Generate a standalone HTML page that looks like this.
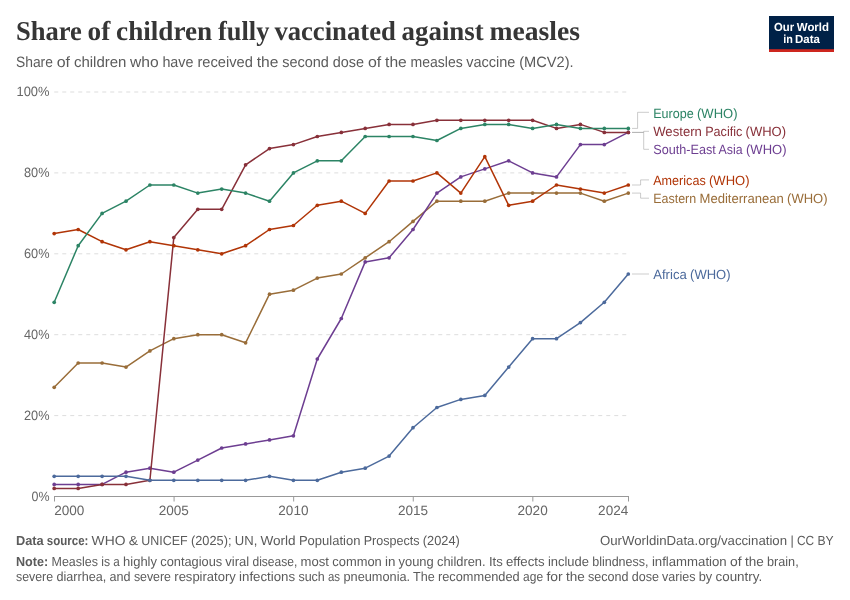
<!DOCTYPE html>
<html lang="en"><head><meta charset="utf-8"><title>Share of children fully vaccinated against measles</title>
<style>html,body{margin:0;padding:0;background:#fff}svg{display:block}text{white-space:pre;text-rendering:geometricPrecision}</style></head>
<body>
<svg width="850" height="600" viewBox="0 0 850 600">
<rect x="0" y="0" width="850" height="600" fill="#fff"/>
<rect x="769" y="16" width="65" height="36" fill="#002147"/>
<rect x="769" y="49.2" width="65" height="2.8" fill="#ce261e"/>
<line x1="54.25" x2="628.3" y1="415.6" y2="415.6" stroke="#ddd" stroke-width="1" stroke-dasharray="4,4"/>
<line x1="54.25" x2="628.3" y1="334.7" y2="334.7" stroke="#ddd" stroke-width="1" stroke-dasharray="4,4"/>
<line x1="54.25" x2="628.3" y1="253.8" y2="253.8" stroke="#ddd" stroke-width="1" stroke-dasharray="4,4"/>
<line x1="54.25" x2="628.3" y1="172.9" y2="172.9" stroke="#ddd" stroke-width="1" stroke-dasharray="4,4"/>
<line x1="54.25" x2="628.3" y1="92.0" y2="92.0" stroke="#ddd" stroke-width="1" stroke-dasharray="4,4"/>
<line x1="54" x2="629" y1="496.5" y2="496.5" stroke="#999" stroke-width="1"/>
<line x1="54.50" x2="54.50" y1="496.5" y2="501.5" stroke="#999" stroke-width="1"/>
<line x1="174.08" x2="174.08" y1="496.5" y2="501.5" stroke="#999" stroke-width="1"/>
<line x1="293.67" x2="293.67" y1="496.5" y2="501.5" stroke="#999" stroke-width="1"/>
<line x1="413.25" x2="413.25" y1="496.5" y2="501.5" stroke="#999" stroke-width="1"/>
<line x1="532.83" x2="532.83" y1="496.5" y2="501.5" stroke="#999" stroke-width="1"/>
<line x1="628.50" x2="628.50" y1="496.5" y2="501.5" stroke="#999" stroke-width="1"/>
<polyline fill="none" stroke="#999" stroke-width="0.5" points="632.0,128.4 637.6,128.4 637.6,112.3 649.0,112.3"/>
<polyline fill="none" stroke="#999" stroke-width="0.5" points="632.0,132.4 643.7,132.4 643.7,131.3 649.0,131.3"/>
<polyline fill="none" stroke="#999" stroke-width="0.5" points="632.0,132.4 643.7,132.4 643.7,149.3 649.0,149.3"/>
<polyline fill="none" stroke="#999" stroke-width="0.5" points="632.0,185.0 640.6,185.0 640.6,179.9 649.0,179.9"/>
<polyline fill="none" stroke="#999" stroke-width="0.5" points="632.0,193.1 640.6,193.1 640.6,198.2 649.0,198.2"/>
<polyline fill="none" stroke="#999" stroke-width="0.5" points="632.0,274.0 649.0,274.0"/>
<g stroke="#996D39" fill="#996D39"><polyline fill="none" stroke-width="1.5" stroke-linejoin="round" stroke-linecap="round" points="54.2,387.3 78.2,363.0 102.1,363.0 126.0,367.1 149.9,350.9 173.8,338.7 197.8,334.7 221.7,334.7 245.6,342.8 269.5,294.2 293.4,290.2 317.3,278.1 341.3,274.0 365.2,257.8 389.1,241.7 413.0,221.4 436.9,201.2 460.8,201.2 484.8,201.2 508.7,193.1 532.6,193.1 556.5,193.1 580.4,193.1 604.3,201.2 628.3,193.1"/>
<circle cx="54.2" cy="387.3" r="1.85" stroke="none"/><circle cx="78.2" cy="363.0" r="1.85" stroke="none"/><circle cx="102.1" cy="363.0" r="1.85" stroke="none"/><circle cx="126.0" cy="367.1" r="1.85" stroke="none"/><circle cx="149.9" cy="350.9" r="1.85" stroke="none"/><circle cx="173.8" cy="338.7" r="1.85" stroke="none"/><circle cx="197.8" cy="334.7" r="1.85" stroke="none"/><circle cx="221.7" cy="334.7" r="1.85" stroke="none"/><circle cx="245.6" cy="342.8" r="1.85" stroke="none"/><circle cx="269.5" cy="294.2" r="1.85" stroke="none"/><circle cx="293.4" cy="290.2" r="1.85" stroke="none"/><circle cx="317.3" cy="278.1" r="1.85" stroke="none"/><circle cx="341.3" cy="274.0" r="1.85" stroke="none"/><circle cx="365.2" cy="257.8" r="1.85" stroke="none"/><circle cx="389.1" cy="241.7" r="1.85" stroke="none"/><circle cx="413.0" cy="221.4" r="1.85" stroke="none"/><circle cx="436.9" cy="201.2" r="1.85" stroke="none"/><circle cx="460.8" cy="201.2" r="1.85" stroke="none"/><circle cx="484.8" cy="201.2" r="1.85" stroke="none"/><circle cx="508.7" cy="193.1" r="1.85" stroke="none"/><circle cx="532.6" cy="193.1" r="1.85" stroke="none"/><circle cx="556.5" cy="193.1" r="1.85" stroke="none"/><circle cx="580.4" cy="193.1" r="1.85" stroke="none"/><circle cx="604.3" cy="201.2" r="1.85" stroke="none"/><circle cx="628.3" cy="193.1" r="1.85" stroke="none"/>
</g>
<g stroke="#6D3E91" fill="#6D3E91"><polyline fill="none" stroke-width="1.5" stroke-linejoin="round" stroke-linecap="round" points="54.2,484.4 78.2,484.4 102.1,484.4 126.0,472.2 149.9,468.2 173.8,472.2 197.8,460.1 221.7,448.0 245.6,443.9 269.5,439.9 293.4,435.8 317.3,359.0 341.3,318.5 365.2,261.9 389.1,257.8 413.0,229.5 436.9,193.1 460.8,176.9 484.8,168.9 508.7,160.8 532.6,172.9 556.5,176.9 580.4,144.6 604.3,144.6 628.3,132.4"/>
<circle cx="54.2" cy="484.4" r="1.85" stroke="none"/><circle cx="78.2" cy="484.4" r="1.85" stroke="none"/><circle cx="102.1" cy="484.4" r="1.85" stroke="none"/><circle cx="126.0" cy="472.2" r="1.85" stroke="none"/><circle cx="149.9" cy="468.2" r="1.85" stroke="none"/><circle cx="173.8" cy="472.2" r="1.85" stroke="none"/><circle cx="197.8" cy="460.1" r="1.85" stroke="none"/><circle cx="221.7" cy="448.0" r="1.85" stroke="none"/><circle cx="245.6" cy="443.9" r="1.85" stroke="none"/><circle cx="269.5" cy="439.9" r="1.85" stroke="none"/><circle cx="293.4" cy="435.8" r="1.85" stroke="none"/><circle cx="317.3" cy="359.0" r="1.85" stroke="none"/><circle cx="341.3" cy="318.5" r="1.85" stroke="none"/><circle cx="365.2" cy="261.9" r="1.85" stroke="none"/><circle cx="389.1" cy="257.8" r="1.85" stroke="none"/><circle cx="413.0" cy="229.5" r="1.85" stroke="none"/><circle cx="436.9" cy="193.1" r="1.85" stroke="none"/><circle cx="460.8" cy="176.9" r="1.85" stroke="none"/><circle cx="484.8" cy="168.9" r="1.85" stroke="none"/><circle cx="508.7" cy="160.8" r="1.85" stroke="none"/><circle cx="532.6" cy="172.9" r="1.85" stroke="none"/><circle cx="556.5" cy="176.9" r="1.85" stroke="none"/><circle cx="580.4" cy="144.6" r="1.85" stroke="none"/><circle cx="604.3" cy="144.6" r="1.85" stroke="none"/><circle cx="628.3" cy="132.4" r="1.85" stroke="none"/>
</g>
<g stroke="#883039" fill="#883039"><polyline fill="none" stroke-width="1.5" stroke-linejoin="round" stroke-linecap="round" points="54.2,488.4 78.2,488.4 102.1,484.4 126.0,484.4 149.9,480.3 173.8,237.6 197.8,209.3 221.7,209.3 245.6,164.8 269.5,148.6 293.4,144.6 317.3,136.5 341.3,132.4 365.2,128.4 389.1,124.4 413.0,124.4 436.9,120.3 460.8,120.3 484.8,120.3 508.7,120.3 532.6,120.3 556.5,128.4 580.4,124.4 604.3,132.4 628.3,132.4"/>
<circle cx="54.2" cy="488.4" r="1.85" stroke="none"/><circle cx="78.2" cy="488.4" r="1.85" stroke="none"/><circle cx="102.1" cy="484.4" r="1.85" stroke="none"/><circle cx="126.0" cy="484.4" r="1.85" stroke="none"/><circle cx="149.9" cy="480.3" r="1.85" stroke="none"/><circle cx="173.8" cy="237.6" r="1.85" stroke="none"/><circle cx="197.8" cy="209.3" r="1.85" stroke="none"/><circle cx="221.7" cy="209.3" r="1.85" stroke="none"/><circle cx="245.6" cy="164.8" r="1.85" stroke="none"/><circle cx="269.5" cy="148.6" r="1.85" stroke="none"/><circle cx="293.4" cy="144.6" r="1.85" stroke="none"/><circle cx="317.3" cy="136.5" r="1.85" stroke="none"/><circle cx="341.3" cy="132.4" r="1.85" stroke="none"/><circle cx="365.2" cy="128.4" r="1.85" stroke="none"/><circle cx="389.1" cy="124.4" r="1.85" stroke="none"/><circle cx="413.0" cy="124.4" r="1.85" stroke="none"/><circle cx="436.9" cy="120.3" r="1.85" stroke="none"/><circle cx="460.8" cy="120.3" r="1.85" stroke="none"/><circle cx="484.8" cy="120.3" r="1.85" stroke="none"/><circle cx="508.7" cy="120.3" r="1.85" stroke="none"/><circle cx="532.6" cy="120.3" r="1.85" stroke="none"/><circle cx="556.5" cy="128.4" r="1.85" stroke="none"/><circle cx="580.4" cy="124.4" r="1.85" stroke="none"/><circle cx="604.3" cy="132.4" r="1.85" stroke="none"/><circle cx="628.3" cy="132.4" r="1.85" stroke="none"/>
</g>
<g stroke="#4C6A9C" fill="#4C6A9C"><polyline fill="none" stroke-width="1.5" stroke-linejoin="round" stroke-linecap="round" points="54.2,476.3 78.2,476.3 102.1,476.3 126.0,476.3 149.9,480.3 173.8,480.3 197.8,480.3 221.7,480.3 245.6,480.3 269.5,476.3 293.4,480.3 317.3,480.3 341.3,472.2 365.2,468.2 389.1,456.1 413.0,427.7 436.9,407.5 460.8,399.4 484.8,395.4 508.7,367.1 532.6,338.7 556.5,338.7 580.4,322.6 604.3,302.3 628.3,274.0"/>
<circle cx="54.2" cy="476.3" r="1.85" stroke="none"/><circle cx="78.2" cy="476.3" r="1.85" stroke="none"/><circle cx="102.1" cy="476.3" r="1.85" stroke="none"/><circle cx="126.0" cy="476.3" r="1.85" stroke="none"/><circle cx="149.9" cy="480.3" r="1.85" stroke="none"/><circle cx="173.8" cy="480.3" r="1.85" stroke="none"/><circle cx="197.8" cy="480.3" r="1.85" stroke="none"/><circle cx="221.7" cy="480.3" r="1.85" stroke="none"/><circle cx="245.6" cy="480.3" r="1.85" stroke="none"/><circle cx="269.5" cy="476.3" r="1.85" stroke="none"/><circle cx="293.4" cy="480.3" r="1.85" stroke="none"/><circle cx="317.3" cy="480.3" r="1.85" stroke="none"/><circle cx="341.3" cy="472.2" r="1.85" stroke="none"/><circle cx="365.2" cy="468.2" r="1.85" stroke="none"/><circle cx="389.1" cy="456.1" r="1.85" stroke="none"/><circle cx="413.0" cy="427.7" r="1.85" stroke="none"/><circle cx="436.9" cy="407.5" r="1.85" stroke="none"/><circle cx="460.8" cy="399.4" r="1.85" stroke="none"/><circle cx="484.8" cy="395.4" r="1.85" stroke="none"/><circle cx="508.7" cy="367.1" r="1.85" stroke="none"/><circle cx="532.6" cy="338.7" r="1.85" stroke="none"/><circle cx="556.5" cy="338.7" r="1.85" stroke="none"/><circle cx="580.4" cy="322.6" r="1.85" stroke="none"/><circle cx="604.3" cy="302.3" r="1.85" stroke="none"/><circle cx="628.3" cy="274.0" r="1.85" stroke="none"/>
</g>
<g stroke="#B13507" fill="#B13507"><polyline fill="none" stroke-width="1.5" stroke-linejoin="round" stroke-linecap="round" points="54.2,233.6 78.2,229.5 102.1,241.7 126.0,249.8 149.9,241.7 173.8,245.7 197.8,249.8 221.7,253.8 245.6,245.7 269.5,229.5 293.4,225.5 317.3,205.3 341.3,201.2 365.2,213.4 389.1,181.0 413.0,181.0 436.9,172.9 460.8,193.1 484.8,156.7 508.7,205.3 532.6,201.2 556.5,185.0 580.4,189.1 604.3,193.1 628.3,185.0"/>
<circle cx="54.2" cy="233.6" r="1.85" stroke="none"/><circle cx="78.2" cy="229.5" r="1.85" stroke="none"/><circle cx="102.1" cy="241.7" r="1.85" stroke="none"/><circle cx="126.0" cy="249.8" r="1.85" stroke="none"/><circle cx="149.9" cy="241.7" r="1.85" stroke="none"/><circle cx="173.8" cy="245.7" r="1.85" stroke="none"/><circle cx="197.8" cy="249.8" r="1.85" stroke="none"/><circle cx="221.7" cy="253.8" r="1.85" stroke="none"/><circle cx="245.6" cy="245.7" r="1.85" stroke="none"/><circle cx="269.5" cy="229.5" r="1.85" stroke="none"/><circle cx="293.4" cy="225.5" r="1.85" stroke="none"/><circle cx="317.3" cy="205.3" r="1.85" stroke="none"/><circle cx="341.3" cy="201.2" r="1.85" stroke="none"/><circle cx="365.2" cy="213.4" r="1.85" stroke="none"/><circle cx="389.1" cy="181.0" r="1.85" stroke="none"/><circle cx="413.0" cy="181.0" r="1.85" stroke="none"/><circle cx="436.9" cy="172.9" r="1.85" stroke="none"/><circle cx="460.8" cy="193.1" r="1.85" stroke="none"/><circle cx="484.8" cy="156.7" r="1.85" stroke="none"/><circle cx="508.7" cy="205.3" r="1.85" stroke="none"/><circle cx="532.6" cy="201.2" r="1.85" stroke="none"/><circle cx="556.5" cy="185.0" r="1.85" stroke="none"/><circle cx="580.4" cy="189.1" r="1.85" stroke="none"/><circle cx="604.3" cy="193.1" r="1.85" stroke="none"/><circle cx="628.3" cy="185.0" r="1.85" stroke="none"/>
</g>
<g stroke="#2C8465" fill="#2C8465"><polyline fill="none" stroke-width="1.5" stroke-linejoin="round" stroke-linecap="round" points="54.2,302.3 78.2,245.7 102.1,213.4 126.0,201.2 149.9,185.0 173.8,185.0 197.8,193.1 221.7,189.1 245.6,193.1 269.5,201.2 293.4,172.9 317.3,160.8 341.3,160.8 365.2,136.5 389.1,136.5 413.0,136.5 436.9,140.5 460.8,128.4 484.8,124.4 508.7,124.4 532.6,128.4 556.5,124.4 580.4,128.4 604.3,128.4 628.3,128.4"/>
<circle cx="54.2" cy="302.3" r="1.85" stroke="none"/><circle cx="78.2" cy="245.7" r="1.85" stroke="none"/><circle cx="102.1" cy="213.4" r="1.85" stroke="none"/><circle cx="126.0" cy="201.2" r="1.85" stroke="none"/><circle cx="149.9" cy="185.0" r="1.85" stroke="none"/><circle cx="173.8" cy="185.0" r="1.85" stroke="none"/><circle cx="197.8" cy="193.1" r="1.85" stroke="none"/><circle cx="221.7" cy="189.1" r="1.85" stroke="none"/><circle cx="245.6" cy="193.1" r="1.85" stroke="none"/><circle cx="269.5" cy="201.2" r="1.85" stroke="none"/><circle cx="293.4" cy="172.9" r="1.85" stroke="none"/><circle cx="317.3" cy="160.8" r="1.85" stroke="none"/><circle cx="341.3" cy="160.8" r="1.85" stroke="none"/><circle cx="365.2" cy="136.5" r="1.85" stroke="none"/><circle cx="389.1" cy="136.5" r="1.85" stroke="none"/><circle cx="413.0" cy="136.5" r="1.85" stroke="none"/><circle cx="436.9" cy="140.5" r="1.85" stroke="none"/><circle cx="460.8" cy="128.4" r="1.85" stroke="none"/><circle cx="484.8" cy="124.4" r="1.85" stroke="none"/><circle cx="508.7" cy="124.4" r="1.85" stroke="none"/><circle cx="532.6" cy="128.4" r="1.85" stroke="none"/><circle cx="556.5" cy="124.4" r="1.85" stroke="none"/><circle cx="580.4" cy="128.4" r="1.85" stroke="none"/><circle cx="604.3" cy="128.4" r="1.85" stroke="none"/><circle cx="628.3" cy="128.4" r="1.85" stroke="none"/>
</g>
<text id="title" y="40" font-family="'Liberation Serif', serif" font-size="27.3" fill="#363636"><tspan x="16.0" textLength="65.9" lengthAdjust="spacingAndGlyphs" font-weight="700">Share</tspan> <tspan x="87.6" textLength="22.7" lengthAdjust="spacingAndGlyphs" font-weight="700">of</tspan> <tspan x="116.1" textLength="96.1" lengthAdjust="spacingAndGlyphs" font-weight="700">children</tspan> <tspan x="218.0" textLength="51.4" lengthAdjust="spacingAndGlyphs" font-weight="700">fully</tspan> <tspan x="274.4" textLength="121.4" lengthAdjust="spacingAndGlyphs" font-weight="700">vaccinated</tspan> <tspan x="401.6" textLength="82.1" lengthAdjust="spacingAndGlyphs" font-weight="700">against</tspan> <tspan x="489.4" textLength="90.5" lengthAdjust="spacingAndGlyphs" font-weight="700">measles</tspan></text>
<text id="sub" y="67" font-family="'Liberation Sans', sans-serif" font-size="15" fill="#5b5b5b"><tspan x="16.0" textLength="36.9" lengthAdjust="spacingAndGlyphs">Share</tspan> <tspan x="56.7" textLength="13.3" lengthAdjust="spacingAndGlyphs">of</tspan> <tspan x="73.9" textLength="52.5" lengthAdjust="spacingAndGlyphs">children</tspan> <tspan x="130.0" textLength="28.7" lengthAdjust="spacingAndGlyphs">who</tspan> <tspan x="162.4" textLength="31.1" lengthAdjust="spacingAndGlyphs">have</tspan> <tspan x="197.4" textLength="55.5" lengthAdjust="spacingAndGlyphs">received</tspan> <tspan x="256.7" textLength="21.7" lengthAdjust="spacingAndGlyphs">the</tspan> <tspan x="282.2" textLength="46.7" lengthAdjust="spacingAndGlyphs">second</tspan> <tspan x="332.8" textLength="31.3" lengthAdjust="spacingAndGlyphs">dose</tspan> <tspan x="367.9" textLength="13.3" lengthAdjust="spacingAndGlyphs">of</tspan> <tspan x="385.1" textLength="21.7" lengthAdjust="spacingAndGlyphs">the</tspan> <tspan x="410.6" textLength="52.2" lengthAdjust="spacingAndGlyphs">measles</tspan> <tspan x="466.2" textLength="49.1" lengthAdjust="spacingAndGlyphs">vaccine</tspan> <tspan x="519.2" textLength="54.4" lengthAdjust="spacingAndGlyphs">(MCV2).</tspan></text>
<text id="y0" y="501" font-family="'Liberation Sans', sans-serif" font-size="13.5" fill="#666"><tspan x="31.5" textLength="18.0" lengthAdjust="spacingAndGlyphs">0%</tspan></text>
<text id="y20" y="420" font-family="'Liberation Sans', sans-serif" font-size="13.5" fill="#666"><tspan x="24.0" textLength="25.5" lengthAdjust="spacingAndGlyphs">20%</tspan></text>
<text id="y40" y="339" font-family="'Liberation Sans', sans-serif" font-size="13.5" fill="#666"><tspan x="24.0" textLength="25.5" lengthAdjust="spacingAndGlyphs">40%</tspan></text>
<text id="y60" y="258" font-family="'Liberation Sans', sans-serif" font-size="13.5" fill="#666"><tspan x="24.0" textLength="25.5" lengthAdjust="spacingAndGlyphs">60%</tspan></text>
<text id="y80" y="177" font-family="'Liberation Sans', sans-serif" font-size="13.5" fill="#666"><tspan x="24.0" textLength="25.5" lengthAdjust="spacingAndGlyphs">80%</tspan></text>
<text id="y100" y="96" font-family="'Liberation Sans', sans-serif" font-size="13.5" fill="#666"><tspan x="16.5" textLength="33.0" lengthAdjust="spacingAndGlyphs">100%</tspan></text>
<text id="x2000" y="515" font-family="'Liberation Sans', sans-serif" font-size="13.5" fill="#666"><tspan x="54.2" textLength="30.2" lengthAdjust="spacingAndGlyphs">2000</tspan></text>
<text id="x2005" y="515" font-family="'Liberation Sans', sans-serif" font-size="13.5" fill="#666"><tspan x="158.7" textLength="30.2" lengthAdjust="spacingAndGlyphs">2005</tspan></text>
<text id="x2010" y="515" font-family="'Liberation Sans', sans-serif" font-size="13.5" fill="#666"><tspan x="278.3" textLength="30.2" lengthAdjust="spacingAndGlyphs">2010</tspan></text>
<text id="x2015" y="515" font-family="'Liberation Sans', sans-serif" font-size="13.5" fill="#666"><tspan x="397.9" textLength="30.2" lengthAdjust="spacingAndGlyphs">2015</tspan></text>
<text id="x2020" y="515" font-family="'Liberation Sans', sans-serif" font-size="13.5" fill="#666"><tspan x="517.5" textLength="30.2" lengthAdjust="spacingAndGlyphs">2020</tspan></text>
<text id="x2024" y="515" font-family="'Liberation Sans', sans-serif" font-size="13.5" fill="#666"><tspan x="598.1" textLength="30.2" lengthAdjust="spacingAndGlyphs">2024</tspan></text>
<text id="lab_Europe" y="118" font-family="'Liberation Sans', sans-serif" font-size="13.3" fill="#2C8465"><tspan x="653.2" textLength="40.5" lengthAdjust="spacingAndGlyphs">Europe</tspan> <tspan x="697.0" textLength="40.5" lengthAdjust="spacingAndGlyphs">(WHO)</tspan></text>
<text id="lab_Western" y="136" font-family="'Liberation Sans', sans-serif" font-size="13.3" fill="#883039"><tspan x="653.2" textLength="48.7" lengthAdjust="spacingAndGlyphs">Western</tspan> <tspan x="705.2" textLength="37.1" lengthAdjust="spacingAndGlyphs">Pacific</tspan> <tspan x="745.6" textLength="40.5" lengthAdjust="spacingAndGlyphs">(WHO)</tspan></text>
<text id="lab_South-East" y="154" font-family="'Liberation Sans', sans-serif" font-size="13.3" fill="#6D3E91"><tspan x="653.2" textLength="62.6" lengthAdjust="spacingAndGlyphs">South-East</tspan> <tspan x="718.6" textLength="24.0" lengthAdjust="spacingAndGlyphs">Asia</tspan> <tspan x="746.0" textLength="40.5" lengthAdjust="spacingAndGlyphs">(WHO)</tspan></text>
<text id="lab_Americas" y="185" font-family="'Liberation Sans', sans-serif" font-size="13.3" fill="#B13507"><tspan x="653.2" textLength="52.5" lengthAdjust="spacingAndGlyphs">Americas</tspan> <tspan x="709.0" textLength="40.5" lengthAdjust="spacingAndGlyphs">(WHO)</tspan></text>
<text id="lab_Eastern" y="203" font-family="'Liberation Sans', sans-serif" font-size="13.3" fill="#996D39"><tspan x="653.2" textLength="43.0" lengthAdjust="spacingAndGlyphs">Eastern</tspan> <tspan x="699.5" textLength="84.3" lengthAdjust="spacingAndGlyphs">Mediterranean</tspan> <tspan x="787.1" textLength="40.5" lengthAdjust="spacingAndGlyphs">(WHO)</tspan></text>
<text id="lab_Africa" y="279" font-family="'Liberation Sans', sans-serif" font-size="13.3" fill="#4C6A9C"><tspan x="653.2" textLength="33.6" lengthAdjust="spacingAndGlyphs">Africa</tspan> <tspan x="690.1" textLength="40.5" lengthAdjust="spacingAndGlyphs">(WHO)</tspan></text>
<text id="f1" y="545" font-family="'Liberation Sans', sans-serif" font-size="13.2" fill="#5b5b5b"><tspan x="16.0" textLength="27.7" lengthAdjust="spacingAndGlyphs" font-weight="700">Data</tspan> <tspan x="46.8" textLength="41.6" lengthAdjust="spacingAndGlyphs" font-weight="700">source:</tspan> <tspan x="91.6" textLength="33.8" lengthAdjust="spacingAndGlyphs">WHO</tspan> <tspan x="128.7" textLength="9.3" lengthAdjust="spacingAndGlyphs">&amp;</tspan> <tspan x="141.3" textLength="46.4" lengthAdjust="spacingAndGlyphs">UNICEF</tspan> <tspan x="191.0" textLength="40.5" lengthAdjust="spacingAndGlyphs">(2025);</tspan> <tspan x="234.8" textLength="22.5" lengthAdjust="spacingAndGlyphs">UN,</tspan> <tspan x="260.4" textLength="35.2" lengthAdjust="spacingAndGlyphs">World</tspan> <tspan x="298.9" textLength="61.5" lengthAdjust="spacingAndGlyphs">Population</tspan> <tspan x="363.7" textLength="55.8" lengthAdjust="spacingAndGlyphs">Prospects</tspan> <tspan x="422.8" textLength="37.1" lengthAdjust="spacingAndGlyphs">(2024)</tspan></text>
<text id="f1r" y="545" font-family="'Liberation Sans', sans-serif" font-size="13.2" fill="#5b5b5b"><tspan x="599.9" textLength="187.2" lengthAdjust="spacingAndGlyphs">OurWorldinData.org/vaccination</tspan> <tspan x="790.4" textLength="3.3" lengthAdjust="spacingAndGlyphs">|</tspan> <tspan x="797.0" textLength="17.2" lengthAdjust="spacingAndGlyphs">CC</tspan> <tspan x="817.5" textLength="16.2" lengthAdjust="spacingAndGlyphs">BY</tspan></text>
<text id="f2" y="566" font-family="'Liberation Sans', sans-serif" font-size="13.2" fill="#5b5b5b"><tspan x="16.0" textLength="32.2" lengthAdjust="spacingAndGlyphs" font-weight="700">Note:</tspan> <tspan x="51.5" textLength="46.4" lengthAdjust="spacingAndGlyphs">Measles</tspan> <tspan x="101.3" textLength="8.8" lengthAdjust="spacingAndGlyphs">is</tspan> <tspan x="113.3" textLength="6.5" lengthAdjust="spacingAndGlyphs">a</tspan> <tspan x="123.1" textLength="33.9" lengthAdjust="spacingAndGlyphs">highly</tspan> <tspan x="160.3" textLength="61.9" lengthAdjust="spacingAndGlyphs">contagious</tspan> <tspan x="225.2" textLength="24.0" lengthAdjust="spacingAndGlyphs">viral</tspan> <tspan x="252.5" textLength="44.8" lengthAdjust="spacingAndGlyphs">disease,</tspan> <tspan x="300.6" textLength="28.4" lengthAdjust="spacingAndGlyphs">most</tspan> <tspan x="332.3" textLength="49.5" lengthAdjust="spacingAndGlyphs">common</tspan> <tspan x="385.1" textLength="10.4" lengthAdjust="spacingAndGlyphs">in</tspan> <tspan x="398.5" textLength="35.2" lengthAdjust="spacingAndGlyphs">young</tspan> <tspan x="437.0" textLength="48.6" lengthAdjust="spacingAndGlyphs">children.</tspan> <tspan x="488.9" textLength="13.8" lengthAdjust="spacingAndGlyphs">Its</tspan> <tspan x="505.9" textLength="38.6" lengthAdjust="spacingAndGlyphs">effects</tspan> <tspan x="547.9" textLength="41.0" lengthAdjust="spacingAndGlyphs">include</tspan> <tspan x="592.2" textLength="56.3" lengthAdjust="spacingAndGlyphs">blindness,</tspan> <tspan x="651.9" textLength="74.8" lengthAdjust="spacingAndGlyphs">inflammation</tspan> <tspan x="730.0" textLength="11.6" lengthAdjust="spacingAndGlyphs">of</tspan> <tspan x="744.9" textLength="18.8" lengthAdjust="spacingAndGlyphs">the</tspan> <tspan x="767.0" textLength="31.7" lengthAdjust="spacingAndGlyphs">brain,</tspan></text>
<text id="f3" y="581" font-family="'Liberation Sans', sans-serif" font-size="13.2" fill="#5b5b5b"><tspan x="16.0" textLength="37.1" lengthAdjust="spacingAndGlyphs">severe</tspan> <tspan x="56.4" textLength="49.9" lengthAdjust="spacingAndGlyphs">diarrhea,</tspan> <tspan x="109.6" textLength="21.0" lengthAdjust="spacingAndGlyphs">and</tspan> <tspan x="133.9" textLength="37.1" lengthAdjust="spacingAndGlyphs">severe</tspan> <tspan x="174.3" textLength="61.5" lengthAdjust="spacingAndGlyphs">respiratory</tspan> <tspan x="239.1" textLength="56.0" lengthAdjust="spacingAndGlyphs">infections</tspan> <tspan x="298.4" textLength="26.4" lengthAdjust="spacingAndGlyphs">such</tspan> <tspan x="328.0" textLength="12.1" lengthAdjust="spacingAndGlyphs">as</tspan> <tspan x="343.5" textLength="66.6" lengthAdjust="spacingAndGlyphs">pneumonia.</tspan> <tspan x="413.0" textLength="21.7" lengthAdjust="spacingAndGlyphs">The</tspan> <tspan x="438.0" textLength="81.7" lengthAdjust="spacingAndGlyphs">recommended</tspan> <tspan x="523.1" textLength="20.0" lengthAdjust="spacingAndGlyphs">age</tspan> <tspan x="546.4" textLength="16.2" lengthAdjust="spacingAndGlyphs">for</tspan> <tspan x="565.9" textLength="18.8" lengthAdjust="spacingAndGlyphs">the</tspan> <tspan x="588.0" textLength="40.5" lengthAdjust="spacingAndGlyphs">second</tspan> <tspan x="631.8" textLength="27.2" lengthAdjust="spacingAndGlyphs">dose</tspan> <tspan x="662.0" textLength="33.4" lengthAdjust="spacingAndGlyphs">varies</tspan> <tspan x="698.7" textLength="13.5" lengthAdjust="spacingAndGlyphs">by</tspan> <tspan x="715.5" textLength="46.6" lengthAdjust="spacingAndGlyphs">country.</tspan></text>
<text id="logo1" y="31" font-family="'Liberation Sans', sans-serif" font-size="11.7" fill="#fff"><tspan x="774.0" textLength="20.1" lengthAdjust="spacingAndGlyphs" font-weight="700">Our</tspan> <tspan x="796.8" textLength="32.2" lengthAdjust="spacingAndGlyphs" font-weight="700">World</tspan></text>
<text id="logo2" y="43" font-family="'Liberation Sans', sans-serif" font-size="11.7" fill="#fff"><tspan x="783.2" textLength="9.6" lengthAdjust="spacingAndGlyphs" font-weight="700">in</tspan> <tspan x="795.0" textLength="24.9" lengthAdjust="spacingAndGlyphs" font-weight="700">Data</tspan></text>
</svg>
</body></html>
